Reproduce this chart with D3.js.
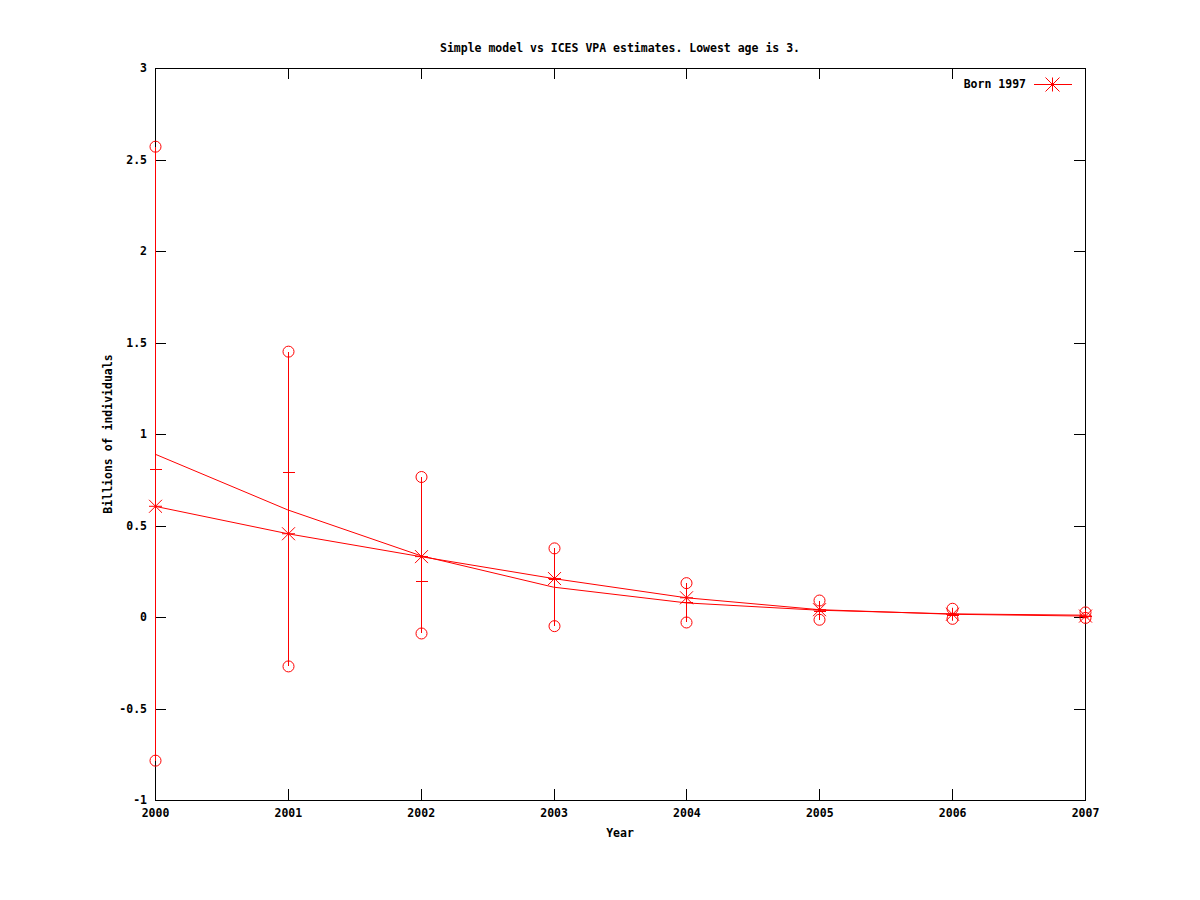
<!DOCTYPE html>
<html>
<head>
<meta charset="utf-8">
<script src="https://cdn.jsdelivr.net/npm/d3@7"></script>
<style>
  body { margin: 0; background: #fff; }
  text { font-family: "DejaVu Sans Mono", "Liberation Mono", monospace; font-weight: bold; font-size: 11.5px; fill: #000; }
</style>
</head>
<body>
<div id="chart"></div>
<script>
// Data
let years = [2000, 2001, 2002, 2003, 2004, 2005, 2006, 2007];
// model, born 1997 (asterisks)
let model = [0.605, 0.455, 0.33, 0.21, 0.105, 0.04, 0.015, 0.005];
// VPA estimate centre and interval ends
let vpaMid = [0.89, 0.585, 0.335, 0.163, 0.077, 0.037, 0.017, 0.01];
let vpaLow = [-0.785, -0.27, -0.09, -0.05, -0.03, -0.015, -0.01, -0.005];
let vpaHigh = [2.57, 1.45, 0.765, 0.375, 0.185, 0.09, 0.045, 0.025];
// small horizontal marks on the bars
let marks = [0.81, 0.79, 0.195, 0.21, 0.08, 0.035, 0.012, 0.005];
let yTicks = [-1, -0.5, 0, 0.5, 1, 1.5, 2, 2.5, 3];

let margin = { top: 68, right: 115, bottom: 100, left: 155 },
  width = 1200 - margin.left - margin.right,
  height = 900 - margin.top - margin.bottom;

let red = "#ff0000";

let svg = d3
  .select("#chart")
  .append("svg")
  .attr("width", 1200)
  .attr("height", 900);

let g = svg
  .append("g")
  .attr("transform", "translate(" + margin.left + "," + margin.top + ")");

let x = d3.scaleLinear().domain([2000, 2007]).range([0, width]);
let y = d3.scaleLinear().domain([-1, 3]).range([height, 0]);

// axes, ticks pointing inwards on all four sides
let tickLen = 11;
g.append("g")
  .attr("transform", "translate(0," + height + ")")
  .call(d3.axisBottom(x).tickValues(years).tickFormat(d3.format("d")).tickSize(-tickLen).tickPadding(9))
  .call((a) => a.select(".domain").remove());
g.append("g")
  .call(d3.axisTop(x).tickValues(years).tickSize(-tickLen).tickFormat(""))
  .call((a) => a.select(".domain").remove());
g.append("g")
  .call(d3.axisLeft(y).tickValues(yTicks).tickFormat((d) => String(d)).tickSize(-tickLen).tickPadding(8))
  .call((a) => a.select(".domain").remove());
g.append("g")
  .attr("transform", "translate(" + width + ",0)")
  .call(d3.axisRight(y).tickValues(yTicks).tickSize(-tickLen).tickFormat(""))
  .call((a) => a.select(".domain").remove());

g.selectAll(".tick line").attr("stroke", "#000").attr("shape-rendering", "crispEdges");
g.selectAll(".tick text")
  .style("font-family", '"DejaVu Sans Mono", monospace')
  .style("font-weight", "bold")
  .style("font-size", "11.5px");

g.append("rect")
  .attr("x", 0.5)
  .attr("y", 0.5)
  .attr("width", width)
  .attr("height", height)
  .attr("fill", "none")
  .attr("stroke", "#000")
  .attr("shape-rendering", "crispEdges");

// titles
svg.append("text")
  .attr("x", margin.left + width / 2)
  .attr("y", 52)
  .attr("text-anchor", "middle")
  .text("Simple model vs ICES VPA estimates. Lowest age is 3.");
svg.append("text")
  .attr("x", margin.left + width / 2)
  .attr("y", 837)
  .attr("text-anchor", "middle")
  .text("Year");
svg.append("text")
  .attr("transform", "translate(112," + (margin.top + height / 2) + ") rotate(-90)")
  .attr("text-anchor", "middle")
  .text("Billions of individuals");

let line = d3.line()
  .x((d) => x(d[0]))
  .y((d) => y(d[1]));

// error bars
let bars = g.append("g");
years.forEach(function (yr, i) {
  let bx = Math.round(x(yr)) + 0.5;
  bars.append("line")
    .attr("x1", bx).attr("x2", bx)
    .attr("y1", y(vpaLow[i])).attr("y2", y(vpaHigh[i]))
    .attr("stroke", red)
    .attr("shape-rendering", "crispEdges");
  bars.append("line")
    .attr("x1", bx - 6).attr("x2", bx + 6)
    .attr("y1", Math.round(y(marks[i])) + 0.5).attr("y2", Math.round(y(marks[i])) + 0.5)
    .attr("stroke", red)
    .attr("shape-rendering", "crispEdges");
  [vpaLow[i], vpaHigh[i]].forEach(function (v) {
    bars.append("circle")
      .attr("cx", bx)
      .attr("cy", y(v))
      .attr("r", 5.5)
      .attr("fill", "none")
      .attr("stroke", red);
  });
});

// VPA centre line
g.append("path")
  .datum(years.map((yr, i) => [yr, vpaMid[i]]))
  .attr("d", line)
  .attr("fill", "none")
  .attr("stroke", red);

// model line
g.append("path")
  .datum(years.map((yr, i) => [yr, model[i]]))
  .attr("d", line)
  .attr("fill", "none")
  .attr("stroke", red);

function asterisk(sel, cx, cy, s) {
  sel.append("path")
    .attr("d",
      "M" + (cx - s) + "," + cy + "H" + (cx + s) +
      "M" + cx + "," + (cy - s) + "V" + (cy + s) +
      "M" + (cx - s) + "," + (cy - s) + "L" + (cx + s) + "," + (cy + s) +
      "M" + (cx - s) + "," + (cy + s) + "L" + (cx + s) + "," + (cy - s))
    .attr("fill", "none")
    .attr("stroke", red);
}

let pts = g.append("g");
years.forEach((yr, i) => asterisk(pts, Math.round(x(yr)) + 0.5, y(model[i]), 6.5));

// legend
let lg = svg.append("g");
lg.append("text")
  .attr("x", 1026)
  .attr("y", 88)
  .attr("text-anchor", "end")
  .text("Born 1997");
lg.append("line")
  .attr("x1", 1034).attr("x2", 1072)
  .attr("y1", 84.5).attr("y2", 84.5)
  .attr("stroke", red);
asterisk(lg, 1052.5, 84.5, 7);
</script>
</body>
</html>
